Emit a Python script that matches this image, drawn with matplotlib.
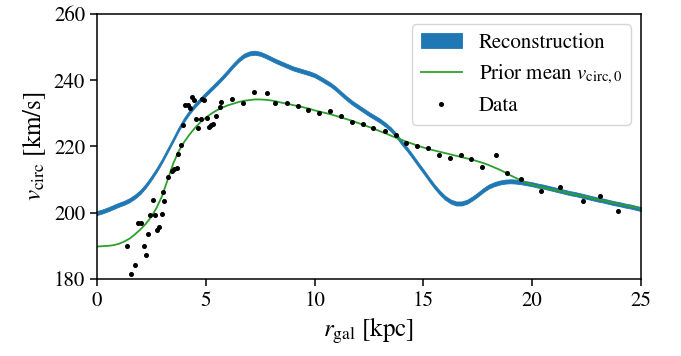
import numpy as np
from matplotlib import pyplot as plt

plt.rcParams['font.family'] = 'STIXGeneral'
plt.rcParams['mathtext.fontset'] = 'stix'

# radius grid for the curves [kpc], 0.25 kpc steps
r_grid = np.linspace(0, 25, 101)

# reconstruction (mean of the band) [km/s]
recon = [199.9, 200.4, 201.0, 201.7, 202.4, 203.0, 203.8, 204.9, 206.3, 208.2,
         210.5, 213.0, 215.8, 218.9, 222.0, 225.2, 228.0, 230.4, 232.4, 234.1,
         235.8, 237.4, 239.0, 240.7, 242.5, 244.4, 246.1, 247.4, 248.1, 248.3,
         248.0, 247.3, 246.5, 245.7, 245.0, 244.3, 243.6, 243.1, 242.6, 242.1,
         241.5, 240.6, 239.6, 238.6, 237.3, 235.8, 234.4, 233.1, 232.0, 230.9,
         229.8, 228.8, 227.8, 226.6, 225.2, 223.4, 221.2, 219.2, 217.0, 214.7,
         212.5, 210.2, 208.0, 206.1, 204.5, 203.4, 202.8, 202.8, 203.3, 204.3,
         205.5, 206.8, 207.9, 208.6, 209.1, 209.4, 209.5, 209.4, 209.2, 208.9,
         208.6, 208.2, 207.9, 207.5, 207.1, 206.7, 206.3, 205.9, 205.6, 205.2,
         204.8, 204.4, 204.0, 203.7, 203.3, 202.9, 202.6, 202.2, 201.9, 201.5,
         201.1]
recon_halfwidth = 0.6

# prior mean v_circ,0 [km/s]
prior = [189.8, 189.9, 190.0, 190.2, 190.6, 191.3, 192.2, 193.5, 195.0, 196.7,
         198.8, 201.6, 205.2, 210.0, 214.8, 218.5, 221.3, 223.6, 225.6, 227.3,
         228.7, 229.9, 230.9, 231.7, 232.4, 232.9, 233.4, 233.8, 234.0, 234.2,
         234.2, 234.1, 233.9, 233.6, 233.2, 232.9, 232.5, 232.2, 231.8, 231.4,
         230.9, 230.5, 230.1, 229.7, 229.2, 228.7, 228.2, 227.7, 227.1, 226.5,
         225.9, 225.3, 224.6, 224.0, 223.3, 222.6, 222.0, 221.4, 220.8, 220.2,
         219.7, 219.2, 218.8, 218.4, 218.0, 217.6, 217.2, 216.8, 216.4, 216.0,
         215.5, 215.0, 214.4, 213.7, 213.0, 212.2, 211.3, 210.5, 209.7, 209.0,
         208.5, 208.0, 207.6, 207.2, 206.9, 206.5, 206.2, 205.8, 205.5, 205.1,
         204.8, 204.4, 204.0, 203.7, 203.3, 203.0, 202.6, 202.3, 201.9, 201.6,
         201.2]

# data points
r_data = [1.36, 1.55, 1.75, 1.90, 2.02, 2.16, 2.25, 2.36, 2.44, 2.56, 2.67, 2.77,
          2.86, 2.97, 3.05, 3.08, 3.28, 3.43, 3.54, 3.68, 3.74, 3.86, 3.97, 4.04,
          4.17, 4.27, 4.35, 4.46, 4.55, 4.66, 4.76, 4.84, 4.93, 5.07, 5.15, 5.24,
          5.35, 5.45, 5.65, 5.70, 6.19, 6.72, 7.20, 7.80, 8.18, 8.75, 9.25, 9.71,
          10.22, 10.71, 11.21, 11.70, 12.21, 12.70, 13.24, 13.73, 14.20, 14.69,
          15.20, 15.72, 16.22, 16.71, 17.20, 17.71, 18.32, 18.86, 19.47, 20.39,
          21.28, 22.35, 23.12, 23.96]
v_data = [190.1, 181.6, 184.2, 196.8, 196.8, 190.1, 187.2, 193.7, 199.4, 203.8,
          199.4, 194.9, 195.8, 199.6, 206.4, 203.6, 210.9, 212.7, 213.2, 213.5,
          217.6, 220.6, 226.4, 232.6, 232.4, 231.7, 234.9, 233.9, 228.3, 225.6,
          228.3, 234.2, 234.0, 228.6, 225.9, 226.4, 226.9, 229.2, 231.9, 233.4,
          234.2, 233.1, 236.3, 236.0, 233.1, 233.1, 232.1, 231.1, 230.2, 230.6,
          229.2, 227.4, 226.7, 225.6, 224.8, 223.6, 221.0, 220.1, 219.6, 217.3,
          216.6, 217.3, 216.3, 213.7, 217.5, 212.0, 210.2, 206.7, 207.7, 203.6,
          205.2, 200.6]

recon = np.array(recon)

fig = plt.figure(figsize=(6.81, 3.56), dpi=100)
ax = fig.add_axes([0.1424, 0.2163, 0.7989, 0.7444])

ax.fill_between(r_grid, recon - recon_halfwidth, recon + recon_halfwidth,
                color='#1f77b4', lw=0.6, label='Reconstruction')
ax.plot(r_grid, prior, color='#2ca02c', lw=1.3,
        label=r'Prior mean $v_{\rm circ,0}$')
ax.plot(r_data, v_data, 'o', color='black', ms=2.6, ls='none', label='Data')

ax.set_xlim(0, 25)
ax.set_ylim(180, 260)
ax.set_xticks([0, 5, 10, 15, 20, 25])
ax.set_yticks([180, 200, 220, 240, 260])
ax.tick_params(labelsize=15, length=5, width=1.1)
for s in ax.spines.values():
    s.set_linewidth(1.1)

ax.set_xlabel(r'$r_{\rm gal}$ [kpc]', fontsize=18)
ax.set_ylabel(r'$v_{\rm circ}$ [km/s]', fontsize=18)

ax.legend(loc='upper right', fontsize=15, handlelength=2.0)

fig.savefig('out.png', dpi=100)
